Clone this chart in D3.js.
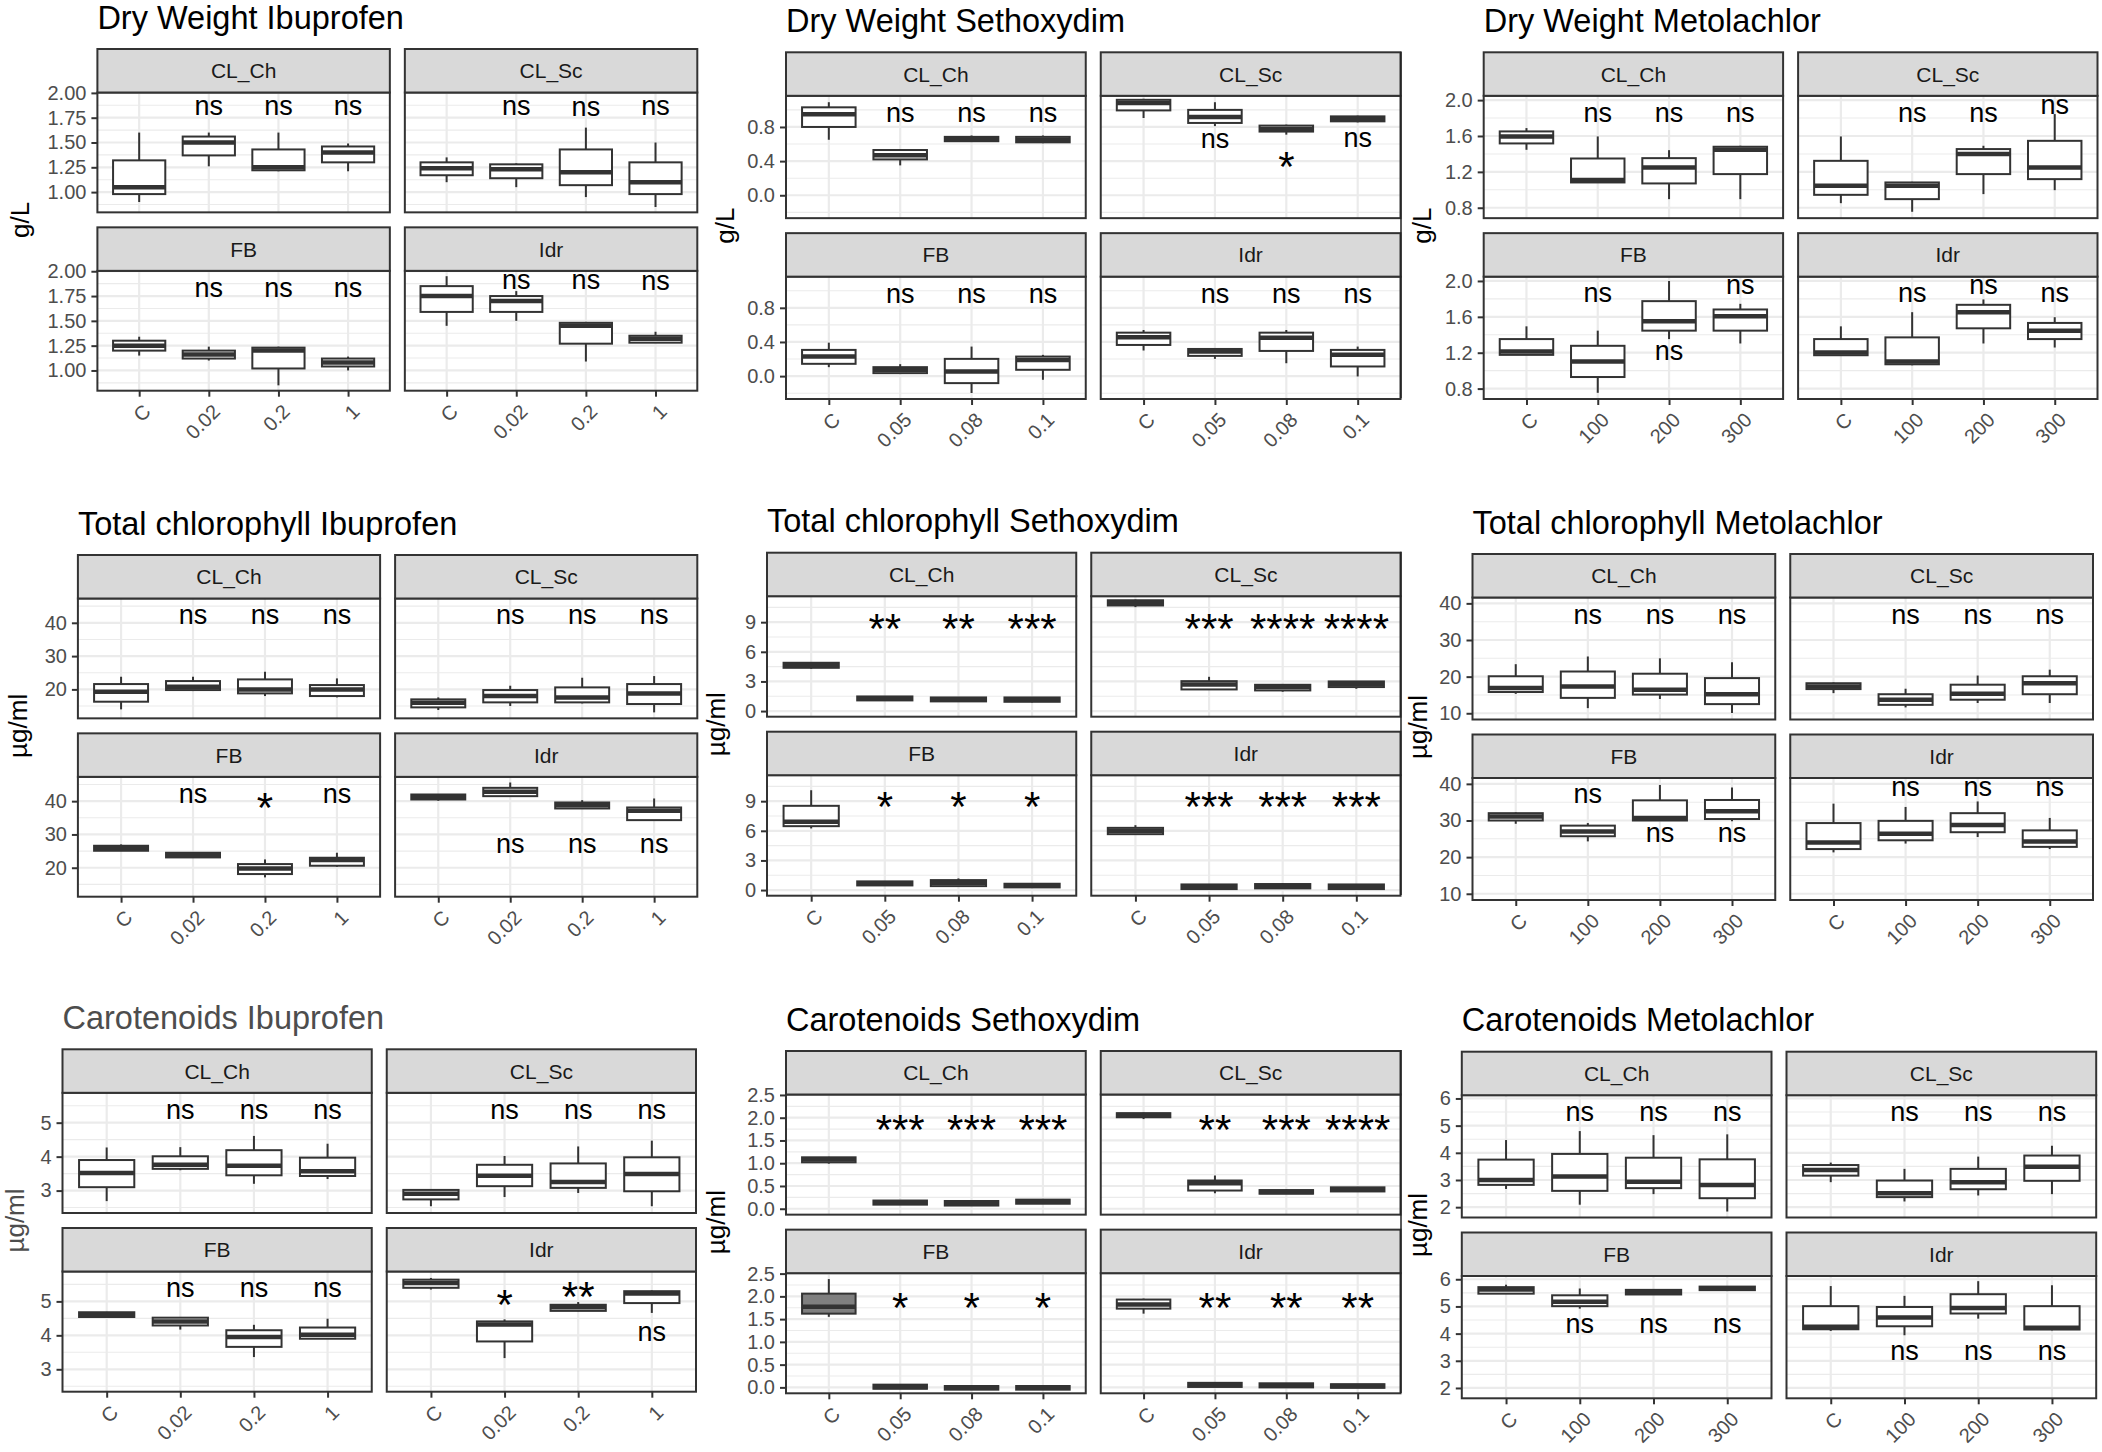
<!DOCTYPE html>
<html>
<head>
<meta charset="utf-8">
<title>Box plots by strain</title>
<script src="https://d3js.org/d3.v7.min.js"></script>
<style>
  body { margin: 0; background: #fff; }
  svg text { font-family: "Liberation Sans", Arial, sans-serif; }
</style>
</head>
<body>
<div id="chart"></div>
<script>
const facets = ["CL_Ch", "CL_Sc", "FB", "Idr"];
const catsIbu = ["C", "0.02", "0.2", "1"];
const catsSeth = ["C", "0.05", "0.08", "0.1"];
const catsMeto = ["C", "100", "200", "300"];

// box stats per facet: [lower whisker, q1, median, q3, upper whisker]
const dwIbuBoxes = [
  [[0.90,0.98,1.05,1.32,1.60],[1.26,1.37,1.50,1.56,1.60],[1.21,1.22,1.25,1.43,1.60],[1.21,1.30,1.40,1.46,1.49]],
  [[1.10,1.17,1.24,1.30,1.35],[1.05,1.14,1.23,1.28,1.29],[0.95,1.07,1.20,1.43,1.65],[0.85,0.98,1.10,1.30,1.50]],
  [[1.15,1.20,1.25,1.30,1.34],[1.10,1.12,1.16,1.20,1.24],[0.85,1.02,1.20,1.23,1.24],[1.00,1.04,1.08,1.12,1.14]],
  [[1.45,1.59,1.75,1.85,1.95],[1.50,1.59,1.70,1.75,1.80],[1.09,1.27,1.45,1.48,1.49],[1.28,1.28,1.32,1.35,1.39]]
];
const dwSethBoxes = [
  [[0.65,0.80,0.95,1.03,1.09],[0.35,0.42,0.47,0.53,0.54],[0.625,0.633,0.66,0.684,0.70],[0.61,0.62,0.65,0.684,0.70]],
  [[0.905,0.994,1.08,1.118,1.13],[0.81,0.847,0.916,1.0,1.09],[0.71,0.746,0.777,0.816,0.827],[0.854,0.866,0.897,0.924,0.932]],
  [[0.105,0.144,0.229,0.307,0.392],[0.027,0.035,0.074,0.105,0.14],[-0.198,-0.082,0.054,0.202,0.346],[-0.043,0.074,0.19,0.229,0.249]],
  [[0.30,0.365,0.454,0.509,0.54],[0.202,0.237,0.287,0.318,0.326],[0.151,0.295,0.45,0.509,0.54],[-0.004,0.113,0.249,0.307,0.346]]
];
const dwMetoBoxes = [
  [[1.446,1.517,1.595,1.651,1.688],[1.082,1.082,1.108,1.349,1.595],[0.896,1.071,1.249,1.353,1.442],[0.896,1.175,1.446,1.48,1.491]],
  [[0.851,0.944,1.045,1.323,1.595],[0.755,0.896,1.045,1.082,1.089],[0.952,1.175,1.398,1.454,1.491],[0.996,1.119,1.249,1.546,1.844]],
  [[1.176,1.176,1.213,1.352,1.494],[0.753,0.929,1.101,1.277,1.446],[1.352,1.446,1.551,1.775,2.0],[1.303,1.446,1.607,1.682,1.745]],
  [[1.165,1.172,1.202,1.352,1.494],[1.06,1.071,1.101,1.371,1.652],[1.303,1.472,1.652,1.734,1.794],[1.258,1.352,1.446,1.532,1.596]]
];
const chlIbuBoxes = [
  [[14.0,16.3,19.3,21.6,23.8],[19.5,19.8,20.8,22.5,23.8],[18.0,18.8,20.0,23.0,25.3],[17.6,18.0,20.0,21.3,23.3]],
  [[13.8,14.6,16.0,17.0,17.6],[15.0,16.1,18.0,19.8,21.1],[15.8,16.1,17.6,20.6,23.5],[13.1,15.6,18.8,21.6,24.0]],
  [[25.0,25.1,26.0,26.6,27.0],[23.0,23.1,23.9,24.5,24.6],[17.1,18.1,19.8,21.1,22.5],[20.3,20.6,22.3,23.0,24.5]],
  [[40.1,40.5,41.3,42.0,42.1],[41.3,41.5,42.8,44.0,45.6],[37.8,37.8,38.8,39.6,40.3],[34.1,34.3,37.1,38.1,40.8]]
];
const chlSethBoxes = [
  [[4.28,4.38,4.65,4.89,4.96],[1.05,1.08,1.28,1.48,1.52],[0.96,0.98,1.18,1.38,1.42],[0.88,0.94,1.18,1.38,1.42]],
  [[10.52,10.69,10.95,11.22,11.29],[2.19,2.19,2.70,3.03,3.47],[1.96,2.09,2.43,2.66,2.70],[2.26,2.43,2.73,3.0,3.03]],
  [[6.24,6.47,6.91,8.53,10.11],[0.45,0.47,0.67,0.88,0.91],[0.38,0.40,0.74,1.01,1.18],[0.25,0.27,0.47,0.64,0.67]],
  [[5.60,5.66,6.0,6.30,6.57],[0.08,0.10,0.34,0.57,0.57],[0.15,0.17,0.40,0.61,0.67],[0.08,0.10,0.34,0.57,0.61]]
];
const chlMetoBoxes = [
  [[15.3,15.8,16.9,20.1,23.4],[11.4,14.2,17.3,21.4,25.5],[13.9,15.1,16.4,20.8,25.0],[10.1,12.5,15.2,19.6,23.9]],
  [[15.5,16.6,17.3,18.2,18.4],[11.6,12.3,13.7,15.2,16.7],[12.8,13.7,15.3,17.8,20.3],[12.8,15.2,18.2,20.1,21.9]],
  [[29.1,30.0,31.1,32.0,32.2],[24.3,25.7,27.0,28.6,29.3],[30.0,30.0,30.7,35.5,39.7],[29.8,30.4,32.5,35.6,39.0]],
  [[21.3,22.2,24.0,29.3,34.6],[23.7,24.6,26.4,29.9,33.7],[25.5,26.8,28.8,32.0,35.2],[22.2,22.8,24.3,27.3,30.7]]
];
const carIbuBoxes = [
  [[2.69,3.10,3.52,3.90,4.27],[3.60,3.64,3.76,4.01,4.28],[3.20,3.45,3.73,4.19,4.61],[3.34,3.43,3.57,3.97,4.38]],
  [[2.54,2.74,2.91,3.02,3.03],[2.81,3.13,3.44,3.76,4.02],[2.93,3.08,3.25,3.80,4.30],[2.54,2.98,3.49,3.98,4.47]],
  [[4.54,4.54,4.61,4.68,4.69],[4.17,4.29,4.41,4.52,4.54],[3.36,3.66,3.95,4.15,4.31],[3.90,3.90,4.02,4.23,4.49]],
  [[5.35,5.40,5.54,5.64,5.69],[3.33,3.82,4.32,4.41,4.47],[4.71,4.72,4.83,4.90,4.98],[4.66,4.95,5.23,5.30,5.32]]
];
const carSethBoxes = [
  [[0.99,1.02,1.08,1.13,1.14],[0.09,0.09,0.14,0.18,0.19],[0.07,0.07,0.12,0.17,0.18],[0.11,0.11,0.16,0.20,0.21]],
  [[1.97,2.01,2.06,2.10,2.11],[0.34,0.40,0.56,0.62,0.73],[0.33,0.33,0.37,0.41,0.42],[0.38,0.38,0.43,0.47,0.48]],
  [[1.55,1.62,1.77,2.06,2.38],[-0.03,-0.03,0.01,0.06,0.07],[-0.05,-0.05,-0.01,0.03,0.03],[-0.05,-0.05,-0.01,0.03,0.03]],
  [[1.62,1.73,1.82,1.93,1.95],[0.01,0.01,0.05,0.10,0.10],[0.0,0.0,0.04,0.09,0.09],[-0.01,-0.01,0.03,0.07,0.07]]
];
const carMetoBoxes = [
  [[2.67,2.82,3.0,3.75,4.47],[2.09,2.60,3.13,3.96,4.80],[2.48,2.70,2.94,3.82,4.65],[1.84,2.33,2.82,3.76,4.68]],
  [[2.92,3.16,3.37,3.55,3.64],[2.21,2.37,2.51,2.98,3.41],[2.43,2.66,2.92,3.41,3.86],[2.48,2.97,3.49,3.90,4.26]],
  [[5.47,5.47,5.62,5.71,5.80],[4.92,5.01,5.17,5.41,5.66],[5.44,5.44,5.53,5.61,5.61],[5.60,5.60,5.67,5.73,5.73]],
  [[4.10,4.16,4.25,5.01,5.75],[3.94,4.27,4.59,4.98,5.39],[4.55,4.74,4.94,5.45,5.93],[4.12,4.15,4.22,5.01,5.78]]
];

// significance label vs control, per facet, for the 3 treated levels: [label, y]
const dwIbuSig = [
  [["ns",1.85],["ns",1.85],["ns",1.85]], [["ns",1.85],["ns",1.835],["ns",1.85]],
  [["ns",1.815],["ns",1.815],["ns",1.815]], [["ns",1.89],["ns",1.89],["ns",1.88]]
];
const dwSethSig = [
  [["ns",0.936],["ns",0.936],["ns",0.936]], [["ns",0.633],["*",0.458],["ns",0.645]],
  [["ns",0.936],["ns",0.936],["ns",0.936]], [["ns",0.936],["ns",0.936],["ns",0.936]]
];
const dwMetoSig = [
  [["ns",1.836],["ns",1.836],["ns",1.836]], [["ns",1.836],["ns",1.836],["ns",1.926]],
  [["ns",1.846],["ns",1.195],["ns",1.933]], [["ns",1.846],["ns",1.933],["ns",1.846]]
];
const chlIbuSig = [
  [["ns",41.6],["ns",41.6],["ns",41.6]], [["ns",41.6],["ns",41.6],["ns",41.6]],
  [["ns",41.5],["*",41.1],["ns",41.5]], [["ns",26.5],["ns",26.5],["ns",26.5]]
];
const chlSethSig = [
  [["**",9.34],["**",9.34],["***",9.34]], [["***",9.34],["****",9.34],["****",9.34]],
  [["*",9.44],["*",9.44],["*",9.44]], [["***",9.44],["***",9.44],["***",9.44]]
];
const chlMetoSig = [
  [["ns",36.3],["ns",36.3],["ns",36.3]], [["ns",36.3],["ns",36.3],["ns",36.3]],
  [["ns",36.7],["ns",26.1],["ns",26.1]], [["ns",38.6],["ns",38.6],["ns",38.6]]
];
const carIbuSig = [
  [["ns",5.32],["ns",5.32],["ns",5.32]], [["ns",5.32],["ns",5.32],["ns",5.32]],
  [["ns",5.34],["ns",5.34],["ns",5.34]], [["*",5.21],["**",5.42],["ns",4.05]]
];
const carSethSig = [
  [["***",1.95],["***",1.95],["***",1.95]], [["**",1.95],["***",1.95],["****",1.95]],
  [["*",1.97],["*",1.97],["*",1.97]], [["**",1.97],["**",1.97],["**",1.97]]
];
const carMetoSig = [
  [["ns",5.43],["ns",5.43],["ns",5.43]], [["ns",5.43],["ns",5.43],["ns",5.43]],
  [["ns",4.28],["ns",4.28],["ns",4.28]], [["ns",3.30],["ns",3.30],["ns",3.30]]
];

// y tick values and shown y range
const dwIbuTicks = [1.00, 1.25, 1.50, 1.75, 2.00];
const dwSethTicks = [0.0, 0.4, 0.8];
const dwMetoTicks = [0.8, 1.2, 1.6, 2.0];
const chlIbuTicks = [20, 30, 40];
const chlSethTicks = [0, 3, 6, 9];
const chlMetoTicks = [10, 20, 30, 40];
const carIbuTicks = [3, 4, 5];
const carSethTicks = [0.0, 0.5, 1.0, 1.5, 2.0, 2.5];
const carMetoTicks = [2, 3, 4, 5, 6];
const yRanges = [[0.796, 2.004], [-0.268, 1.165], [0.684, 2.048],
                 [11.3, 47.3], [-0.57, 11.63], [8.3, 41.6],
                 [2.34, 5.88], [-0.13, 2.51], [1.62, 6.12]];

const titles = ["Dry Weight Ibuprofen", "Dry Weight Sethoxydim", "Dry Weight Metolachlor",
  "Total chlorophyll Ibuprofen", "Total chlorophyll Sethoxydim", "Total chlorophyll Metolachlor",
  "Carotenoids Ibuprofen", "Carotenoids Sethoxydim", "Carotenoids Metolachlor"];
const yTitles = ["g/L", "g/L", "g/L", "µg/ml", "µg/ml", "µg/ml", "µg/ml", "µg/ml", "µg/ml"];

// page layout: L/R = panel area left/right, T = top of first strip, B = bottom of last panel, yt = y title x
const layout = [
  {L: 97.4, R: 697.3, T: 49, B: 390.7, yt: 22.6},
  {L: 786, R: 1400.5, T: 52.3, B: 399, yt: 727},
  {L: 1483.7, R: 2097.5, T: 52.3, B: 399, yt: 1424.6},
  {L: 77.9, R: 697.3, T: 555, B: 896.7, yt: 20.4},
  {L: 767, R: 1400.5, T: 552.7, B: 895.7, yt: 718},
  {L: 1472.5, R: 2093, T: 554, B: 900, yt: 1420},
  {L: 62.5, R: 696, T: 1049.3, B: 1391.7, yt: 17.5},
  {L: 786, R: 1400.5, T: 1051, B: 1393.3, yt: 718},
  {L: 1461.8, R: 2096.2, T: 1051.7, B: 1398.3, yt: 1420}
];

const plots = [
  {boxes: dwIbuBoxes, sig: dwIbuSig, cats: catsIbu, ticks: dwIbuTicks, fmt: ".2f"},
  {boxes: dwSethBoxes, sig: dwSethSig, cats: catsSeth, ticks: dwSethTicks, fmt: ".1f"},
  {boxes: dwMetoBoxes, sig: dwMetoSig, cats: catsMeto, ticks: dwMetoTicks, fmt: ".1f"},
  {boxes: chlIbuBoxes, sig: chlIbuSig, cats: catsIbu, ticks: chlIbuTicks, fmt: "d"},
  {boxes: chlSethBoxes, sig: chlSethSig, cats: catsSeth, ticks: chlSethTicks, fmt: "d"},
  {boxes: chlMetoBoxes, sig: chlMetoSig, cats: catsMeto, ticks: chlMetoTicks, fmt: "d"},
  {boxes: carIbuBoxes, sig: carIbuSig, cats: catsIbu, ticks: carIbuTicks, fmt: "d"},
  {boxes: carSethBoxes, sig: carSethSig, cats: catsSeth, ticks: carSethTicks, fmt: ".1f"},
  {boxes: carMetoBoxes, sig: carMetoSig, cats: catsMeto, ticks: carMetoTicks, fmt: "d"}
].map((p, i) => Object.assign(p, {title: titles[i], ytitle: yTitles[i], range: yRanges[i], lay: layout[i]}));

const W = 2102, H = 1452;
const gap = 15, stripH = 43.5;
const dark = "#333333", grid = "#EBEBEB";
const nsSize = 27, starSize = 42;

const svg = d3.select("#chart").append("svg")
  .attr("width", W).attr("height", H)
  .style("display", "block");

svg.append("rect").attr("width", W).attr("height", H).attr("fill", "#fff");

plots.forEach((p, pi) => {
  const lay = p.lay;
  const pw = (lay.R - lay.L - gap) / 2;
  const rowH = (lay.B - lay.T - gap) / 2;
  // the carotenoids ibuprofen plot has grey title text in the original
  const titleCol = pi === 6 ? "#4D4D4D" : "#000";
  const g = svg.append("g");

  g.append("text")
    .attr("x", lay.L).attr("y", lay.T - 20.5)
    .attr("font-size", 32.5).attr("fill", titleCol)
    .text(p.title);

  const yMid = (lay.T + lay.B) / 2;
  g.append("text")
    .attr("transform", `translate(${lay.yt + 6.5},${yMid}) rotate(-90)`)
    .attr("text-anchor", "middle")
    .attr("font-size", 26).attr("fill", titleCol)
    .text(p.ytitle);

  const step = p.ticks[1] - p.ticks[0];
  const minors = [p.ticks[0] - step / 2].concat(p.ticks.map(t => t + step / 2))
    .filter(v => v > p.range[0] && v < p.range[1]);

  facets.forEach((f, k) => {
    const col = k % 2, row = Math.floor(k / 2);
    const px = lay.L + col * (pw + gap);
    const sy = lay.T + row * (rowH + gap);
    const top = sy + stripH, bottom = sy + rowH;

    const x = d3.scalePoint().domain(p.cats).range([px, px + pw]).padding(0.6);
    const y = d3.scaleLinear().domain(p.range).range([bottom, top]);
    const bw = x.step() * 0.75;

    const pg = g.append("g");
    pg.append("rect").attr("x", px).attr("y", top).attr("width", pw).attr("height", bottom - top)
      .attr("fill", "#fff");

    pg.selectAll(".minor").data(minors).join("line")
      .attr("x1", px).attr("x2", px + pw)
      .attr("y1", d => y(d)).attr("y2", d => y(d))
      .attr("stroke", grid).attr("stroke-width", 1.1);
    pg.selectAll(".major").data(p.ticks.filter(t => t >= p.range[0] && t <= p.range[1])).join("line")
      .attr("x1", px).attr("x2", px + pw)
      .attr("y1", d => y(d)).attr("y2", d => y(d))
      .attr("stroke", grid).attr("stroke-width", 2.2);
    pg.selectAll(".vmajor").data(p.cats).join("line")
      .attr("x1", d => x(d)).attr("x2", d => x(d))
      .attr("y1", top).attr("y2", bottom)
      .attr("stroke", grid).attr("stroke-width", 2.2);

    const boxes = p.boxes[k];
    const bg = pg.selectAll(".box").data(boxes).join("g");
    bg.append("line")
      .attr("x1", (d, i) => x(p.cats[i])).attr("x2", (d, i) => x(p.cats[i]))
      .attr("y1", d => y(d[4])).attr("y2", d => y(d[3]))
      .attr("stroke", dark).attr("stroke-width", 2);
    bg.append("line")
      .attr("x1", (d, i) => x(p.cats[i])).attr("x2", (d, i) => x(p.cats[i]))
      .attr("y1", d => y(d[1])).attr("y2", d => y(d[0]))
      .attr("stroke", dark).attr("stroke-width", 2);
    bg.append("rect")
      .attr("x", (d, i) => x(p.cats[i]) - bw / 2).attr("width", bw)
      .attr("y", d => y(d[3])).attr("height", d => Math.max(0, y(d[1]) - y(d[3])))
      .attr("fill", (d, i) => (pi === 7 && k === 2 && i === 0) ? "#7F7F7F" : "#fff")
      .attr("stroke", dark).attr("stroke-width", 2);
    bg.append("line")
      .attr("x1", (d, i) => x(p.cats[i]) - bw / 2).attr("x2", (d, i) => x(p.cats[i]) + bw / 2)
      .attr("y1", d => y(d[2])).attr("y2", d => y(d[2]))
      .attr("stroke", dark).attr("stroke-width", 4.5);

    pg.selectAll(".sig").data(p.sig[k]).join("text")
      .attr("x", (d, i) => x(p.cats[i + 1]))
      .attr("y", d => y(d[1]) + (d[0] === "ns" ? 0.26 * nsSize : 0.58 * starSize))
      .attr("text-anchor", "middle")
      .attr("font-size", d => d[0] === "ns" ? nsSize : starSize)
      .attr("fill", "#000")
      .text(d => d[0]);

    pg.append("rect").attr("x", px).attr("y", top).attr("width", pw).attr("height", bottom - top)
      .attr("fill", "none").attr("stroke", dark).attr("stroke-width", 2);

    pg.append("rect").attr("x", px).attr("y", sy).attr("width", pw).attr("height", stripH)
      .attr("fill", "#D9D9D9").attr("stroke", dark).attr("stroke-width", 2);
    pg.append("text")
      .attr("x", px + pw / 2).attr("y", sy + stripH / 2 + 7.5)
      .attr("text-anchor", "middle").attr("font-size", 21).attr("fill", "#1A1A1A")
      .text(f);

    if (col === 0) {
      const ya = pg.append("g").attr("transform", `translate(${px},0)`)
        .call(d3.axisLeft(y).tickValues(p.ticks.filter(t => t >= p.range[0] && t <= p.range[1]))
          .tickFormat(d3.format(p.fmt)).tickSize(6).tickPadding(5));
      ya.select(".domain").remove();
      ya.selectAll("line").attr("stroke", dark).attr("stroke-width", 2);
      ya.selectAll("text").attr("font-size", 20).attr("fill", "#4D4D4D")
        .attr("font-family", "Liberation Sans, Arial, sans-serif");
    }
    if (row === 1) {
      const xa = pg.append("g").attr("transform", `translate(0,${bottom})`)
        .call(d3.axisBottom(x).tickSize(6).tickPadding(0));
      xa.select(".domain").remove();
      xa.selectAll("line").attr("stroke", dark).attr("stroke-width", 2);
      xa.selectAll("text")
        .attr("font-size", 20).attr("fill", "#4D4D4D")
        .attr("font-family", "Liberation Sans, Arial, sans-serif")
        .attr("text-anchor", "end")
        .attr("x", 0).attr("y", 0).attr("dy", "0.72em")
        .attr("transform", "translate(2,12) rotate(-45)");
    }
  });
});

// thin dark rules left at the seam of the right-hand column in the source figure
const seams = [[51.7, 398.3], [551.7, 895], [1050, 1393]];
svg.selectAll(".seam").data(seams).join("line")
  .attr("x1", 1401).attr("x2", 1401)
  .attr("y1", d => d[0]).attr("y2", d => d[1])
  .attr("stroke", "#222").attr("stroke-width", 1.5);
</script>
</body>
</html>
